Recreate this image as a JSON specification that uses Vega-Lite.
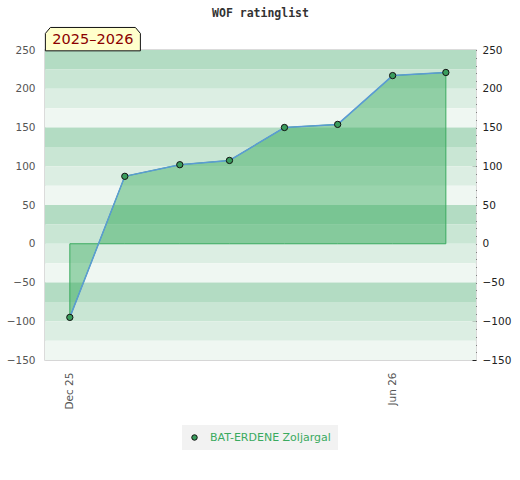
{
  "$schema": "https://vega.github.io/schema/vega-lite/v6.json",
  "autosize": {"type": "none"},
  "width": 431,
  "height": 310,
  "padding": {"left": 45, "top": 50, "right": 44, "bottom": 120},
  "background": "white",
  "title": {
    "text": "WOF ratinglist",
    "font": "DejaVu Sans Mono",
    "fontSize": 11.5,
    "fontWeight": "bold",
    "color": "#333333",
    "anchor": "middle",
    "frame": "group",
    "offset": 6
  },
  "datasets": {
    "ratings": [
      {"month": "2025-12-01T00:00:00", "rating": -95, "player": "BAT-ERDENE Zoljargal"},
      {"month": "2026-01-01T00:00:00", "rating": 87, "player": "BAT-ERDENE Zoljargal"},
      {"month": "2026-02-01T00:00:00", "rating": 102, "player": "BAT-ERDENE Zoljargal"},
      {"month": "2026-03-01T00:00:00", "rating": 107.5, "player": "BAT-ERDENE Zoljargal"},
      {"month": "2026-04-01T00:00:00", "rating": 150, "player": "BAT-ERDENE Zoljargal"},
      {"month": "2026-05-01T00:00:00", "rating": 154, "player": "BAT-ERDENE Zoljargal"},
      {"month": "2026-06-01T00:00:00", "rating": 217, "player": "BAT-ERDENE Zoljargal"},
      {"month": "2026-07-01T00:00:00", "rating": 221, "player": "BAT-ERDENE Zoljargal"}
    ],
    "bands": [
      {"lo": 225, "hi": 250, "shade": "a"},
      {"lo": 200, "hi": 225, "shade": "b"},
      {"lo": 175, "hi": 200, "shade": "c"},
      {"lo": 150, "hi": 175, "shade": "d"},
      {"lo": 125, "hi": 150, "shade": "a"},
      {"lo": 100, "hi": 125, "shade": "b"},
      {"lo": 75, "hi": 100, "shade": "c"},
      {"lo": 50, "hi": 75, "shade": "d"},
      {"lo": 25, "hi": 50, "shade": "a"},
      {"lo": 0, "hi": 25, "shade": "b"},
      {"lo": -25, "hi": 0, "shade": "c"},
      {"lo": -50, "hi": -25, "shade": "d"},
      {"lo": -75, "hi": -50, "shade": "a"},
      {"lo": -100, "hi": -75, "shade": "b"},
      {"lo": -125, "hi": -100, "shade": "c"},
      {"lo": -150, "hi": -125, "shade": "d"}
    ],
    "season": [
      {"label": "2025–2026"}
    ]
  },
  "layer": [
    {
      "data": {"name": "bands"},
      "mark": {"type": "rect"},
      "encoding": {
        "y": {"field": "lo", "type": "quantitative", "axis": null,
              "scale": {"domain": [-150, 250], "nice": false, "zero": false}},
        "y2": {"field": "hi"},
        "fill": {"field": "shade", "type": "nominal", "legend": null,
                 "scale": {"domain": ["a", "b", "c", "d"],
                           "range": ["#b3dcc3", "#c9e6d4", "#dceee3", "#eff7f2"]}}
      }
    },
    {
      "data": {"name": "ratings"},
      "mark": {"type": "area", "color": "#33a959", "fillOpacity": 0.45,
               "stroke": "#3aaa5f", "strokeWidth": 1},
      "encoding": {
        "x": {"field": "month", "type": "temporal", "title": null,
              "scale": {"domain": [{"year": 2025, "month": 11, "date": 17},
                                   {"year": 2026, "month": 7, "date": 18}]},
              "axis": {"values": [{"year": 2025, "month": 12, "date": 1},
                                  {"year": 2026, "month": 6, "date": 1}],
                       "format": "%b %y", "labelAngle": -90, "ticks": false,
                       "domain": false, "grid": false, "labelPadding": 12,
                       "labelColor": "#555555", "labelFontSize": 10.5,
                       "labelFont": "DejaVu Sans"}},
        "y": {"field": "rating", "type": "quantitative", "title": null,
              "axis": {"orient": "left", "values": [-150, -100, -50, 0, 50, 100, 150, 200, 250],
                       "ticks": false, "domain": false, "labelPadding": 10,
                       "labelColor": "#555555", "labelFontSize": 10.5,
                       "labelFont": "DejaVu Sans", "grid": true,
                       "gridColor": {"condition": {"test": "datum.value % 100 !== 0", "value": "#d6d6d6"},
                                     "value": "transparent"}}},
        "y2": {"datum": 0}
      }
    },
    {
      "data": {"name": "ratings"},
      "mark": {"type": "line", "color": "#5b9bd5", "strokeWidth": 1.5},
      "encoding": {
        "x": {"field": "month", "type": "temporal"},
        "y": {"field": "rating", "type": "quantitative", "title": null,
              "axis": {"orient": "right",
                       "values": [-150, -140, -130, -120, -110, -100, -90, -80, -70, -60, -50, -40, -30, -20, -10, 0, 10, 20, 30, 40, 50, 60, 70, 80, 90, 100, 110, 120, 130, 140, 150, 160, 170, 180, 190, 200, 210, 220, 230, 240, 250],
                       "labelExpr": "datum.value % 50 === 0 ? datum.label : ''",
                       "tickSize": -4, "tickColor": "#222222", "domain": false,
                       "grid": false, "labelPadding": 10, "labelColor": "#222222",
                       "labelFontSize": 10.5, "labelFont": "DejaVu Sans"}}
      }
    },
    {
      "data": {"name": "ratings"},
      "mark": {"type": "point", "filled": true, "size": 40, "stroke": "#111111",
               "strokeWidth": 1, "opacity": 1},
      "encoding": {
        "x": {"field": "month", "type": "temporal"},
        "y": {"field": "rating", "type": "quantitative", "axis": null},
        "color": {"field": "player", "type": "nominal",
                  "scale": {"range": ["#3a9d5d"]},
                  "legend": {"title": null, "orient": "none", "legendX": 137, "legendY": 375,
                             "fillColor": "#f2f2f2", "padding": 7,
                             "symbolType": "circle", "symbolSize": 30,
                             "symbolStrokeColor": "#111111", "symbolStrokeWidth": 1,
                             "labelColor": "#3aaa5f", "labelFontSize": 11,
                             "labelFont": "DejaVu Sans", "labelOffset": 10}}
      }
    },
    {
      "data": {"name": "season"},
      "mark": {"type": "point", "filled": true, "fill": "#ffffcc", "stroke": "#111111",
               "strokeWidth": 1, "opacity": 1, "size": 9025,
               "shape": "M -1 0.246 L -1 -0.12 L -0.895 -0.246 L 0.895 -0.246 L 1 -0.12 L 1 0.246 Z"},
      "encoding": {
        "x": {"datum": {"year": 2025, "month": 12, "date": 14}, "type": "temporal"},
        "y": {"datum": 264, "type": "quantitative", "axis": null}
      }
    },
    {
      "data": {"name": "season"},
      "mark": {"type": "text", "color": "#8b0000",
               "font": "DejaVu Sans", "fontSize": 14.5, "baseline": "middle", "dy": 1},
      "encoding": {
        "text": {"field": "label", "type": "nominal"},
        "x": {"datum": {"year": 2025, "month": 12, "date": 14}, "type": "temporal"},
        "y": {"datum": 264, "type": "quantitative", "axis": null}
      }
    }
  ],
  "resolve": {"axis": {"y": "independent"}},
  "config": {
    "view": {"stroke": "#d0d0d0", "strokeWidth": 1.5}
  }
}
